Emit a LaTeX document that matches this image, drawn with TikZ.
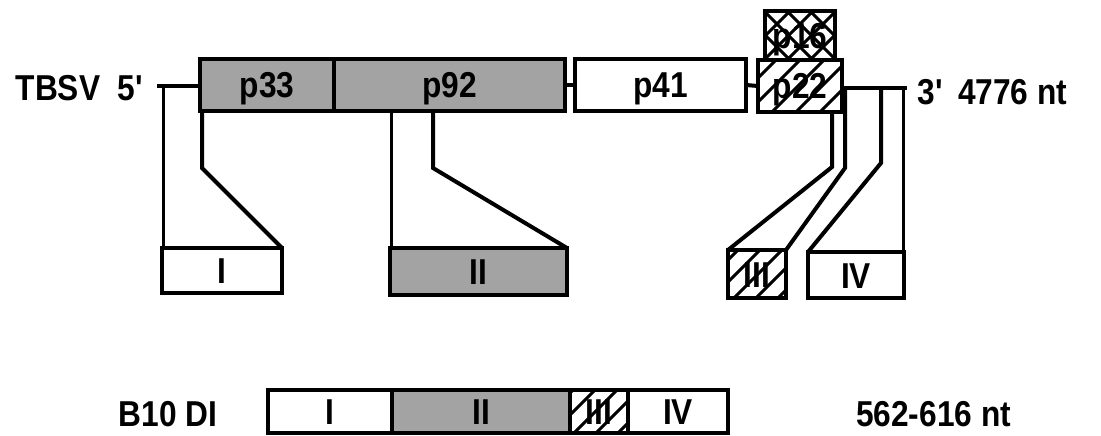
\documentclass[tikz,border=0pt]{standalone}
\usepackage{fontspec}
\setmainfont{Liberation Sans}[FakeStretch=0.88]
\begin{document}
\begin{tikzpicture}[x=1pt,y=-1pt,
  every node/.style={inner sep=0pt, outer sep=0pt},
  txt/.style={font=\fontsize{36}{36}\selectfont\bfseries, text height=26pt, text depth=0pt},
  gene/.style={draw, line width=3.5pt, txt, anchor=north west},
  stip/.style={fill=black!36},
  hline/.style={line width=3pt},
  edge/.style={line width=3.5pt},
  wire/.style={line width=4pt},
  conn/.style={line width=3pt, line join=miter},
  diag/.style={line width=4pt, line join=miter},
]
\useasboundingbox (0,0) rectangle (1101,436);

% ---- genome labels
\node[txt] (tbsv) at (58,87) {TBSV};
\node[txt] (five) at (131,87) {5\textquotesingle};
\node[txt] (three) at (931,91) {3\textquotesingle};
\node[txt, anchor=west] (len) at (958,91) {4776 nt};

% ---- genome ORFs
\node[gene, stip, minimum width=134, minimum height=52] (p33) at (200,59) {p33};
\node[gene, stip, minimum width=231, minimum height=52] (p92) at (334,59) {p92};
\node[gene, minimum width=171, minimum height=52] (p41) at (575,59) {p41};
\node[gene, minimum width=84, minimum height=52] (p22) at (758,60) {p22};
\node[gene, minimum width=70, minimum height=49] (p16) at (765,11) {p16};
% hatching of p22
\begin{scope}
  \clip (758,60) rectangle (842,112);
  \foreach \x in {700,724,...,860} \draw[hline] (\x,112) -- ++(52,-52);
\end{scope}
% cross-hatching of p16
\begin{scope}
  \clip (765,11) rectangle (835,60);
  \foreach \x in {718,741,...,860} {
    \draw[hline] (\x,60) -- ++(49,-49);
    \draw[hline] (\x,11) -- ++(49,49);
  }
\end{scope}
\draw[edge] (p22.south west) rectangle (p22.north east);
\draw[edge] (p16.south west) rectangle (p16.north east);

% ---- genome line
\coordinate (s5) at (157,86);
\coordinate (e3) at (907,88);
\draw[wire] (s5) -- (s5 -| p33.west);
\draw[wire] (p92.east) -- (p41.west);
\draw[wire] (p41.east) -- (p22.west);
\draw[wire] (e3 -| p22.east) -- (e3);

% ---- regions
\node[gene, minimum width=120, minimum height=45] (rI) at (162,248) {I};
\node[gene, stip, minimum width=177, minimum height=47] (rII) at (390,248) {II};
\node[gene, minimum width=58, minimum height=48] (rIII) at (728,250) {III};
\begin{scope}
  \clip (728,250) rectangle (786,298);
  \foreach \x in {690,712,...,800} \draw[hline] (\x,298) -- ++(48,-48);
\end{scope}
\draw[edge] (rIII.south west) rectangle (rIII.north east);
\node[gene, minimum width=96, minimum height=46] (rIV) at (808,252) {IV};

% ---- connectors
\coordinate (a1) at (163,86);
\draw[conn] (a1) -- (a1 |- rI.north);
\coordinate (b1) at (202,110);
\coordinate (b2) at (202,168);
\draw[diag] (b1) -- (b2) -- (rI.north east);
\coordinate (c1) at (391,110);
\draw[conn] (c1) -- (c1 |- rII.north);
\coordinate (d1) at (433,110);
\coordinate (d2) at (433,168);
\draw[diag] (d1) -- (d2) -- (rII.north east);
\coordinate (g1) at (832,112);
\coordinate (g2) at (832,167);
\draw[diag] (g1) -- (g2) -- (rIII.north west);
\coordinate (h1) at (845,88);
\coordinate (h2) at (845,168);
\draw[diag] (h1) -- (h2) -- (rIII.north east);
\coordinate (k1) at (881,88);
\coordinate (k2) at (881,163);
\draw[diag] (k1) -- (k2) -- (rIV.north west);
\coordinate (m1) at (903,88);
\draw[conn] (m1) -- (m1 |- rIV.north);

% ---- B10 DI
\node[txt] (b10) at (168,413) {B10 DI};
\node[gene, minimum width=124, minimum height=43] (dI) at (268,390) {I};
\node[gene, stip, minimum width=178, minimum height=43] (dII) at (392,390) {II};
\node[gene, minimum width=58, minimum height=43] (dIII) at (570,390) {III};
\begin{scope}
  \clip (570,390) rectangle (628,433);
  \foreach \x in {530,552,...,640} \draw[hline] (\x,433) -- ++(43,-43);
\end{scope}
\draw[edge] (dIII.south west) rectangle (dIII.north east);
\node[gene, minimum width=100, minimum height=43] (dIV) at (628,390) {IV};
\node[txt, anchor=west] (dlen) at (856,413) {562-616 nt};
\end{tikzpicture}
\end{document}
